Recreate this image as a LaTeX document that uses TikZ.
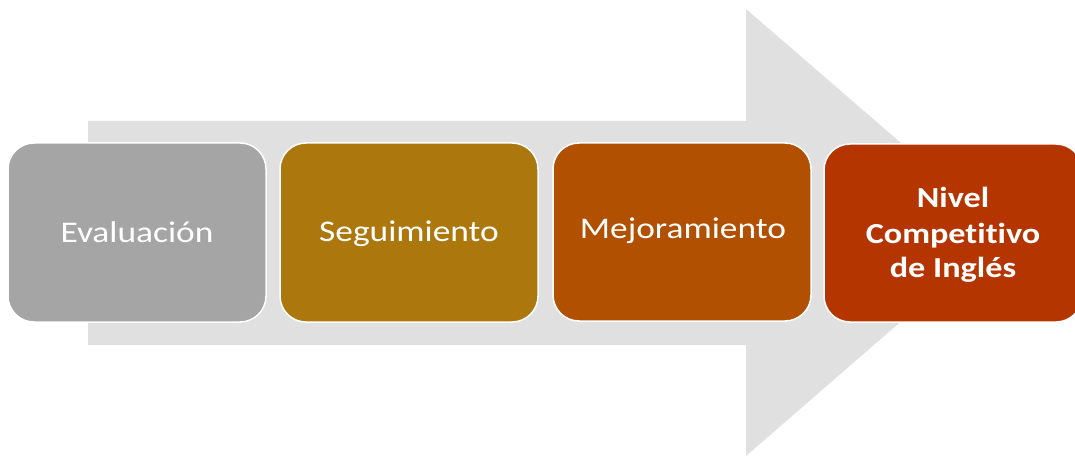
\documentclass[tikz,border=0pt]{standalone}
\usepackage{fontspec}
\setmainfont{Carlito}[FakeStretch=1.18, Ligatures=NoCommon]
\definecolor{arrowgray}{HTML}{E0E0E0}
\definecolor{c1}{HTML}{A5A5A5}
\definecolor{c2}{HTML}{AC780E}
\definecolor{c3}{HTML}{B05000}
\definecolor{c4}{HTML}{B53500}
\begin{document}
\begin{tikzpicture}[x=1pt,y=-1pt,
  stage/.style={draw=white, line width=1.5pt, rounded corners=26pt},
  label/.style={text=white, font=\fontsize{30}{36}\selectfont, align=center, anchor=base, inner sep=0pt}]
\useasboundingbox (0,0) rectangle (1075,457);
\fill[arrowgray] (88,121) -- (746,121) -- (746,9) -- (1004,232) -- (746,456) -- (746,345) -- (88,345) -- cycle;
\filldraw[stage, fill=c1] (8,143) rectangle (266,322);
\filldraw[stage, fill=c2] (280,143) rectangle (538,322);
\filldraw[stage, fill=c3] (553,143) rectangle (811,321);
\filldraw[stage, fill=c4] (824,144) rectangle (1082,322);
\node[label] (n1) at (137,242) {Evaluación};
\node[label] (n2) at (409,241) {Seguimiento};
\node[label] (n3) at (683,238) {Mejoramiento};
\node[label, font=\bfseries\fontsize{29}{36}\selectfont] (n4a) at (953,207) {Nivel};
\node[label, font=\bfseries\fontsize{29}{36}\selectfont] (n4b) at (953,243) {Competitivo};
\node[label, font=\bfseries\fontsize{29}{36}\selectfont] (n4c) at (953,277) {de Inglés};
\end{tikzpicture}
\end{document}
